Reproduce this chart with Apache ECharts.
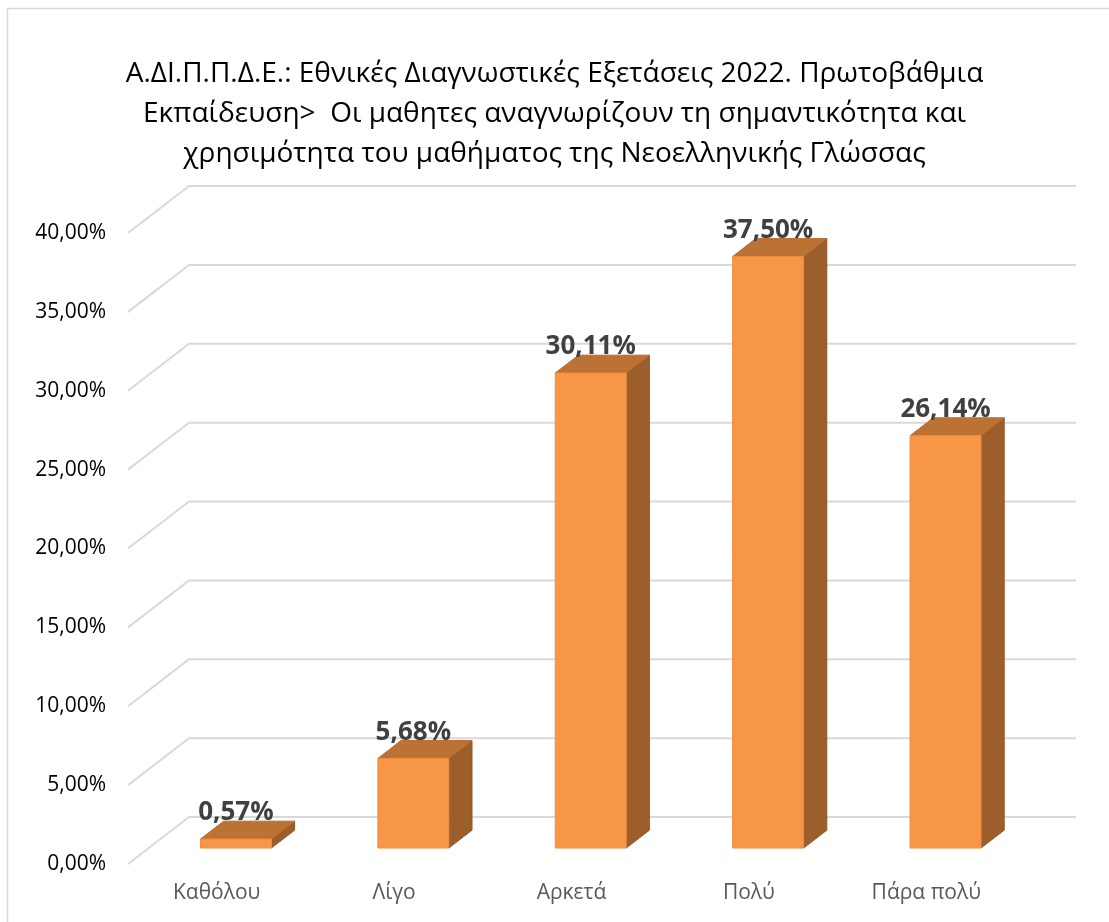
<!DOCTYPE html>
<html><head><meta charset="utf-8">
<script src="https://cdn.jsdelivr.net/npm/echarts@6/dist/echarts.min.js"></script>
<style>html,body{margin:0;padding:0;background:#fff}#c{width:1109px;height:922px}</style>
</head><body><div id="c"></div>
<script>
const categories = ['Καθόλου', 'Λίγο', 'Αρκετά', 'Πολύ', 'Πάρα πολύ'];
const values = [0.57, 5.68, 30.11, 37.50, 26.14];
const yTicks = [0, 5, 10, 15, 20, 25, 30, 35, 40];
const titleLines = [
  'Α.ΔΙ.Π.Π.Δ.Ε.: Εθνικές Διαγνωστικές Εξετάσεις 2022. Πρωτοβάθμια',
  'Εκπαίδευση>  Οι μαθητες αναγνωρίζουν τη σημαντικότητα και',
  'χρησιμότητα του μαθήματος της Νεοελληνικής Γλώσσας'
];

const DX = 61, DY = -47;   // depth of 3D box (pixels)
const F1 = 0.34, F2 = 0.72; // bar position inside depth
const FONT = '"Open Sans", "Noto Sans", sans-serif';
function fmt(v) { return v.toFixed(2).replace('.', ',') + '%'; }

const chart = echarts.init(document.getElementById('c'));
const option = {
  animation: false,
  backgroundColor: '#fff',
  title: {
    text: titleLines.join('\n'),
    left: 'center', top: 54, padding: 0,
    textStyle: { fontFamily: FONT, fontSize: 28, fontWeight: 'normal', color: '#000', lineHeight: 40 }
  },
  graphic: [{
    type: 'rect', silent: true, z: -10,
    shape: { x: 7.5, y: 8.5, width: 1300, height: 1000 },
    style: { fill: 'none', stroke: '#d9d9d9', lineWidth: 1.5 }
  }],
  grid: { left: 128, right: 94, top: 233, bottom: 58, containLabel: false },
  xAxis: {
    type: 'category', data: categories,
    axisLine: { show: false }, axisTick: { show: false },
    axisLabel: { margin: 19, fontFamily: FONT, fontSize: 21, color: '#595959' }
  },
  yAxis: {
    type: 'value', min: 0, max: 40, interval: 5,
    axisLine: { show: false }, axisTick: { show: false }, splitLine: { show: false },
    axisLabel: { margin: 22, fontFamily: FONT, fontSize: 21, color: '#000', formatter: v => fmt(v) }
  },
  series: [
    {
      type: 'custom', silent: true, z: 1,
      data: yTicks.map(v => [0, v]),
      renderItem: function (params, api) {
        const cs = params.coordSys;
        const y = api.coord([0, api.value(1)])[1];
        const x0 = cs.x;
        const x1 = cs.x + cs.width + DX;
        return {
          type: 'polyline',
          shape: { points: [[x0, y], [x0 + DX, y + DY], [x1, y + DY]] },
          style: { stroke: '#d9d9d9', lineWidth: 2, fill: null }
        };
      }
    },
    {
      type: 'custom', silent: true, z: 2,
      data: values.map((v, i) => [i, v]),
      renderItem: function (params, api) {
        const base = api.coord([api.value(0), 0]);
        const top = api.coord([api.value(0), api.value(1)]);
        const band = api.size([1, 0])[0];
        const w = band * 0.4;
        const xl = base[0] - w / 2 + F1 * DX - 1.5, xr = xl + w;
        const yb = base[1] + F1 * DY, yt = top[1] + F1 * DY;
        const dx = (F2 - F1) * DX, dy = (F2 - F1) * DY;
        return {
          type: 'group',
          children: [
            { type: 'polygon', shape: { points: [[xr, yt], [xr + dx, yt + dy], [xr + dx, yb + dy], [xr, yb]] },
              style: { fill: '#9c5e2b', stroke: '#93572a', lineWidth: 1 } },
            { type: 'polygon', shape: { points: [[xl, yt], [xr, yt], [xr + dx, yt + dy], [xl + dx, yt + dy]] },
              style: { fill: '#bd7235', stroke: '#b56c31', lineWidth: 1 } },
            { type: 'rect', shape: { x: xl, y: yt, width: w, height: yb - yt },
              style: { fill: '#f79646', stroke: '#ee8d40', lineWidth: 1 } },
            { type: 'text', x: (xl + xr) / 2, y: yt - 26,
              style: { text: fmt(api.value(1)), fontFamily: FONT, fontSize: 26, fontWeight: 'bold',
                fill: '#404040', align: 'center', verticalAlign: 'middle' } }
          ]
        };
      }
    }
  ]
};
chart.setOption(option);
</script>
</body></html>
